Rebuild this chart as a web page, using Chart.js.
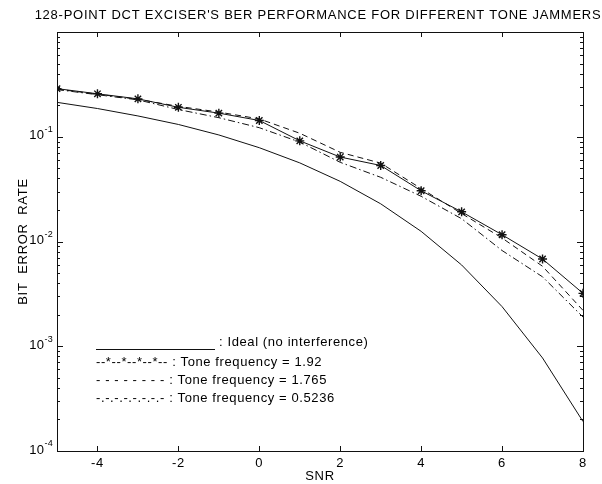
<!DOCTYPE html>
<html>
<head>
<meta charset="utf-8">
<script src="https://cdn.jsdelivr.net/npm/chart.js@4.4.1/dist/chart.umd.min.js"></script>
<style>
  html, body { margin: 0; padding: 0; background: #fff; }
</style>
</head>
<body>
<canvas id="chart" width="602" height="484"></canvas>
<script>
// SNR points (x axis)
const snr = [-5, -4, -3, -2, -1, 0, 1, 2, 3, 4, 5, 6, 7, 8];

// bit error rates
const ideal = [0.213, 0.186, 0.158, 0.131, 0.104, 0.0786, 0.0563, 0.0375, 0.0229, 0.0125, 0.00597, 0.00239, 0.000773, 0.000191];
const tone192 = [0.288, 0.257, 0.23, 0.191, 0.168, 0.143, 0.0914, 0.064, 0.0532, 0.0305, 0.0192, 0.0116, 0.0068, 0.0032];
const tone1765 = [0.285, 0.255, 0.228, 0.195, 0.172, 0.148, 0.108, 0.071, 0.056, 0.032, 0.0185, 0.0108, 0.0058, 0.0022];
const tone05236 = [0.282, 0.252, 0.225, 0.182, 0.152, 0.122, 0.089, 0.057, 0.041, 0.027, 0.0165, 0.0082, 0.0046, 0.0019];

const xTicks = [-4, -2, 0, 2, 4, 6, 8];
const yTicks = [1e-4, 1e-3, 1e-2, 1e-1, 1];
const yTickExp = ['-4', '-3', '-2', '-1', ''];
const minorMult = [2, 3, 4, 5, 6, 7, 8, 9];

const chartTitle = "128-POINT DCT EXCISER'S BER PERFORMANCE FOR DIFFERENT TONE JAMMERS";
const legendRows = [
  ': Ideal (no interference)',
  '--*--*--*--*-- : Tone frequency = 1.92',
  '- - - - - - - - : Tone frequency = 1.765',
  '-.-.-.-.-.-.-.- : Tone frequency = 0.5236'
];

const ink = '#111';
const fontFamily = '"Liberation Sans", Arial, Helvetica, sans-serif';

// box, inner tick marks, y labels, text legend and title
const decorations = {
  id: 'decorations',
  beforeDraw(chart) {
    chart.ctx.letterSpacing = '0.7px';
  },
  afterDraw(chart) {
    const { ctx, chartArea: a, scales } = chart;
    const xs = scales.x, ys = scales.y;
    ctx.save();
    ctx.strokeStyle = ink;
    ctx.lineWidth = 1;
    ctx.strokeRect(Math.round(a.left) + 0.5, Math.round(a.top) + 0.5,
      Math.round(a.right - a.left), Math.round(a.bottom - a.top));

    ctx.beginPath();
    xTicks.forEach(v => {
      const px = Math.round(xs.getPixelForValue(v)) + 0.5;
      ctx.moveTo(px, a.bottom); ctx.lineTo(px, a.bottom - 5);
      ctx.moveTo(px, a.top); ctx.lineTo(px, a.top + 5);
    });
    yTicks.forEach(v => {
      const py = Math.round(ys.getPixelForValue(v)) + 0.5;
      ctx.moveTo(a.left, py); ctx.lineTo(a.left + 6, py);
      ctx.moveTo(a.right, py); ctx.lineTo(a.right - 6, py);
      if (v < 1) {
        minorMult.forEach(m => {
          const my = Math.round(ys.getPixelForValue(v * m)) + 0.5;
          ctx.moveTo(a.left, my); ctx.lineTo(a.left + 3, my);
          ctx.moveTo(a.right, my); ctx.lineTo(a.right - 3, my);
        });
      }
    });
    ctx.stroke();

    // decade labels with a raised exponent
    ctx.fillStyle = '#000';
    ctx.textBaseline = 'middle';
    ctx.textAlign = 'right';
    ctx.letterSpacing = '0.3px';
    yTicks.forEach((v, i) => {
      if (!yTickExp[i]) return;
      const py = ys.getPixelForValue(v);
      const right = a.left - 4;
      ctx.font = '9px ' + fontFamily;
      const ew = ctx.measureText(yTickExp[i]).width;
      ctx.fillText(yTickExp[i], right, py - 7);
      ctx.font = '13px ' + fontFamily;
      ctx.fillText('10', right - ew, py - 1);
    });

    // legend written as text like the original
    ctx.font = '13px ' + fontFamily;
    ctx.letterSpacing = '0.6px';
    ctx.textAlign = 'left';
    ctx.beginPath();
    ctx.moveTo(96, 349.5); ctx.lineTo(215, 349.5);
    ctx.stroke();
    ctx.fillText(legendRows[0], 219, 342);
    ctx.fillText(legendRows[1], 96, 362);
    ctx.fillText(legendRows[2], 96, 380);
    ctx.fillText(legendRows[3], 96, 398);

    ctx.letterSpacing = '0.75px';
    ctx.textAlign = 'center';
    ctx.fillText(chartTitle, 318, 15);
    ctx.restore();
  }
};

const lineBase = { borderColor: ink, borderWidth: 1, pointRadius: 0, fill: false, tension: 0 };

new Chart(document.getElementById('chart'), {
  type: 'line',
  data: {
    labels: snr,
    datasets: [
      { ...lineBase, label: 'Ideal (no interference)', data: snr.map((x, i) => ({ x, y: ideal[i] })) },
      { ...lineBase, label: 'Tone frequency = 1.765', borderDash: [6, 4], data: snr.map((x, i) => ({ x, y: tone1765[i] })) },
      { ...lineBase, label: 'Tone frequency = 0.5236', borderDash: [7, 3, 1.5, 3], data: snr.map((x, i) => ({ x, y: tone05236[i] })) },
      { ...lineBase, label: 'Tone frequency = 1.92', pointRadius: 4.5, pointStyle: 'star',
        pointBorderColor: ink, pointBorderWidth: 1.4, data: snr.map((x, i) => ({ x, y: tone192[i] })) }
    ]
  },
  options: {
    responsive: false,
    animation: false,
    events: [],
    layout: { padding: { top: 32, right: 19, left: 0, bottom: 0 } },
    plugins: { legend: { display: false }, tooltip: { enabled: false }, title: { display: false } },
    scales: {
      x: {
        type: 'linear',
        min: -5, max: 8,
        grid: { display: false, drawTicks: false },
        border: { display: false },
        afterBuildTicks: s => { s.ticks = xTicks.map(v => ({ value: v })); },
        afterFit: s => { s.height = 33; },
        ticks: { color: '#000', padding: 5, font: { family: fontFamily, size: 13 } },
        title: { display: true, text: 'SNR', color: '#000', padding: { top: 0, bottom: 0 }, font: { family: fontFamily, size: 13 } }
      },
      y: {
        type: 'logarithmic',
        min: 1e-4, max: 1,
        grid: { display: false, drawTicks: false },
        border: { display: false },
        afterBuildTicks: s => { s.ticks = yTicks.map(v => ({ value: v })); },
        afterFit: s => { s.width = 57; },
        ticks: { display: false },
        title: { display: true, text: 'BIT  ERROR  RATE', color: '#000', padding: { top: 16, bottom: 0 }, font: { family: fontFamily, size: 13 } }
      }
    }
  },
  plugins: [decorations]
});
</script>
</body>
</html>
